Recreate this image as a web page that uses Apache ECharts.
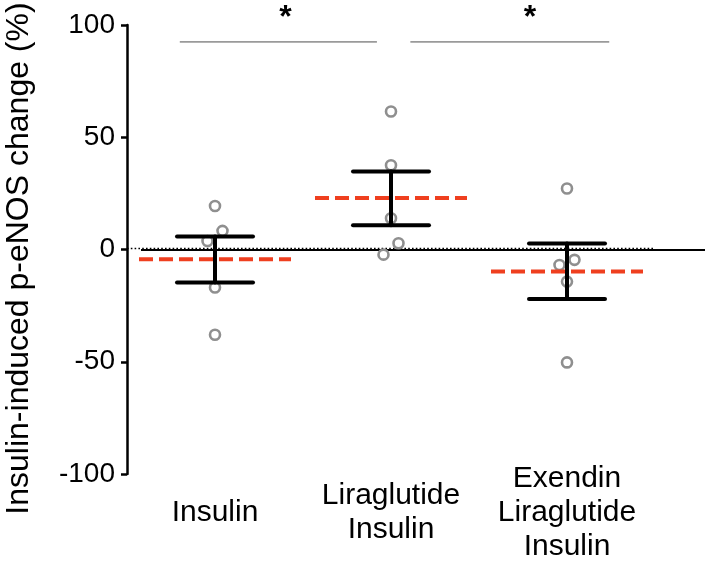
<!DOCTYPE html>
<html>
<head>
<meta charset="utf-8">
<script src="https://cdn.jsdelivr.net/npm/echarts@6/dist/echarts.min.js"></script>
<style>
html,body{margin:0;padding:0;background:#fff;}
#chart{width:709px;height:562px;}
</style>
</head>
<body>
<div id="chart"></div>
<script>
// ---- data ----
const categories = ['Insulin', 'Liraglutide\nInsulin', 'Exendin\nLiraglutide\nInsulin'];
const insulinPoints = [19.4, 8.3, 3.8, -16.9, -38.0];
const liraglutidePoints = [61.5, 37.5, 13.9, 2.8, -2.3];
const exendinPoints = [27.2, -4.6, -6.9, -14.3, -50.3];
const groupMeans = [-4.3, 22.9, -9.8];
const errorUpper = [5.8, 34.7, 2.7];
const errorLower = [-14.7, 10.8, -22.1];
const yTickValues = [-100, -50, 0, 50, 100];
const yAxisTitle = 'Insulin-induced p-eNOS change (%)';
// significance annotations (group-index units)
const sigFrom = [-0.2, 1.11];
const sigTo = [0.92, 2.24];
const sigLevel = [92.5, 92.5];
const sigStarAt = [0.4, 1.79];
const sigText = ['*', '*'];

const FONT = 'Liberation Sans, Arial, Helvetica, sans-serif';

// Prism-like jitter: spread points whose values are nearly equal
function jitterDirs(values) {
  const idx = values.map((v, i) => i).sort((a, b) => values[b] - values[a]);
  const dirs = values.map(() => 0);
  for (let k = 0; k < idx.length - 1; k++) {
    const a = idx[k], b = idx[k + 1];
    if (dirs[a] === 0 && dirs[b] === 0 && values[a] - values[b] < 6) {
      dirs[a] = 1; dirs[b] = -1;
    }
  }
  return dirs;
}
const allGroups = [insulinPoints, liraglutidePoints, exendinPoints];
const pointData = [];
allGroups.forEach((vals, g) => {
  const d = jitterDirs(vals);
  vals.forEach((v, i) => pointData.push([g, v, d[i]]));
});

const meanData = groupMeans.map((m, g) => [g, m]);
const errData = groupMeans.map((m, g) => [g, errorUpper[g], errorLower[g]]);
const sigData = sigFrom.map((f, i) => [f, sigLevel[i], sigTo[i], sigStarAt[i]]);

const chart = echarts.init(document.getElementById('chart'), null, {renderer: 'canvas'});
chart.setOption({
  animation: false,
  backgroundColor: '#fff',
  grid: {left: 127, right: 54, top: 25, bottom: 88, containLabel: false, outerBoundsMode: 'none'},
  xAxis: [{
    type: 'category',
    data: categories,
    boundaryGap: true,
    axisLine: {show: false, onZero: false},
    axisTick: {show: false},
    splitLine: {show: false},
    axisLabel: {
      interval: 0, color: '#000', fontSize: 30, lineHeight: 34, fontFamily: FONT,
      margin: 39, verticalAlign: 'middle', align: 'center'
    }
  }, {
    type: 'value', min: -0.5, max: 2.5, show: false,
    axisLine: {onZero: false}
  }],
  yAxis: {
    type: 'value', min: -100, max: 100, interval: 50,
    axisLine: {show: true, onZero: false, lineStyle: {color: '#000', width: 2.5}},
    axisTick: {show: true, inside: false, length: 6, lineStyle: {color: '#000', width: 2.5}},
    splitLine: {show: false},
    axisLabel: {color: '#000', fontSize: 28, fontFamily: FONT, margin: 12,
      formatter: v => (yTickValues.indexOf(v) >= 0 ? String(v) : '')},
    name: yAxisTitle,
    nameLocation: 'middle',
    nameGap: 92,
    nameTextStyle: {color: '#000', fontSize: 32, fontFamily: FONT, padding: [0, 18, 0, 0]}
  },
  series: [
    { // zero reference lines
      type: 'custom', xAxisIndex: 0, yAxisIndex: 0, silent: true, z: 1,
      data: [[0, 0]],
      renderItem: (params, api) => {
        const cs = params.coordSys;
        const y = api.coord([0, 0])[1];
        return {type: 'group', children: [
          {type: 'line', shape: {x1: cs.x + 14, y1: y + 0.5, x2: cs.x + cs.width + 50, y2: y + 0.5},
           style: {stroke: '#000', lineWidth: 2}},
          {type: 'line', shape: {x1: cs.x, y1: y - 1, x2: cs.x + cs.width, y2: y - 1},
           style: {stroke: '#000', lineWidth: 1.6, lineDash: [1.6, 2.2]}}
        ]};
      }
    },
    { // individual points
      type: 'custom', xAxisIndex: 0, yAxisIndex: 0, silent: true, z: 2,
      data: pointData,
      renderItem: (params, api) => {
        const p = api.coord([api.value(0), api.value(1)]);
        return {type: 'circle', shape: {cx: p[0] + api.value(2) * 7.5, cy: p[1], r: 5},
          style: {fill: 'none', stroke: '#8f8f8f', lineWidth: 2.6}};
      }
    },
    { // group means (red dashed)
      type: 'custom', xAxisIndex: 0, yAxisIndex: 0, silent: true, z: 3,
      data: meanData,
      renderItem: (params, api) => {
        const p = api.coord([api.value(0), api.value(1)]);
        return {type: 'line', shape: {x1: p[0] - 76, y1: p[1], x2: p[0] + 76, y2: p[1]},
          style: {stroke: '#ef3f1f', lineWidth: 4, lineDash: [14, 6]}};
      }
    },
    { // error bars
      type: 'custom', xAxisIndex: 0, yAxisIndex: 0, silent: true, z: 4,
      data: errData,
      renderItem: (params, api) => {
        const t = api.coord([api.value(0), api.value(1)]);
        const b = api.coord([api.value(0), api.value(2)]);
        const hw = 38;
        const st = {stroke: '#000', lineWidth: 4, lineCap: 'round'};
        return {type: 'group', children: [
          {type: 'line', shape: {x1: t[0], y1: t[1], x2: b[0], y2: b[1]}, style: st},
          {type: 'line', shape: {x1: t[0] - hw, y1: t[1], x2: t[0] + hw, y2: t[1]}, style: st},
          {type: 'line', shape: {x1: b[0] - hw, y1: b[1], x2: b[0] + hw, y2: b[1]}, style: st}
        ]};
      }
    },
    { // significance brackets
      type: 'custom', xAxisIndex: 1, yAxisIndex: 0, silent: true, z: 5,
      data: sigData,
      renderItem: (params, api) => {
        const a = api.coord([api.value(0), api.value(1)]);
        const b = api.coord([api.value(2), api.value(1)]);
        const s = api.coord([api.value(3), api.value(1)]);
        return {type: 'group', children: [
          {type: 'line', shape: {x1: a[0], y1: a[1], x2: b[0], y2: b[1]},
           style: {stroke: '#9a9a9a', lineWidth: 1.6}},
          {type: 'text', x: s[0], y: a[1] - 24,
           style: {text: sigText[params.dataIndex], fill: '#000', font: 'bold 32px ' + FONT,
             align: 'center', verticalAlign: 'middle'}}
        ]};
      }
    }
  ]
});
</script>
</body>
</html>
